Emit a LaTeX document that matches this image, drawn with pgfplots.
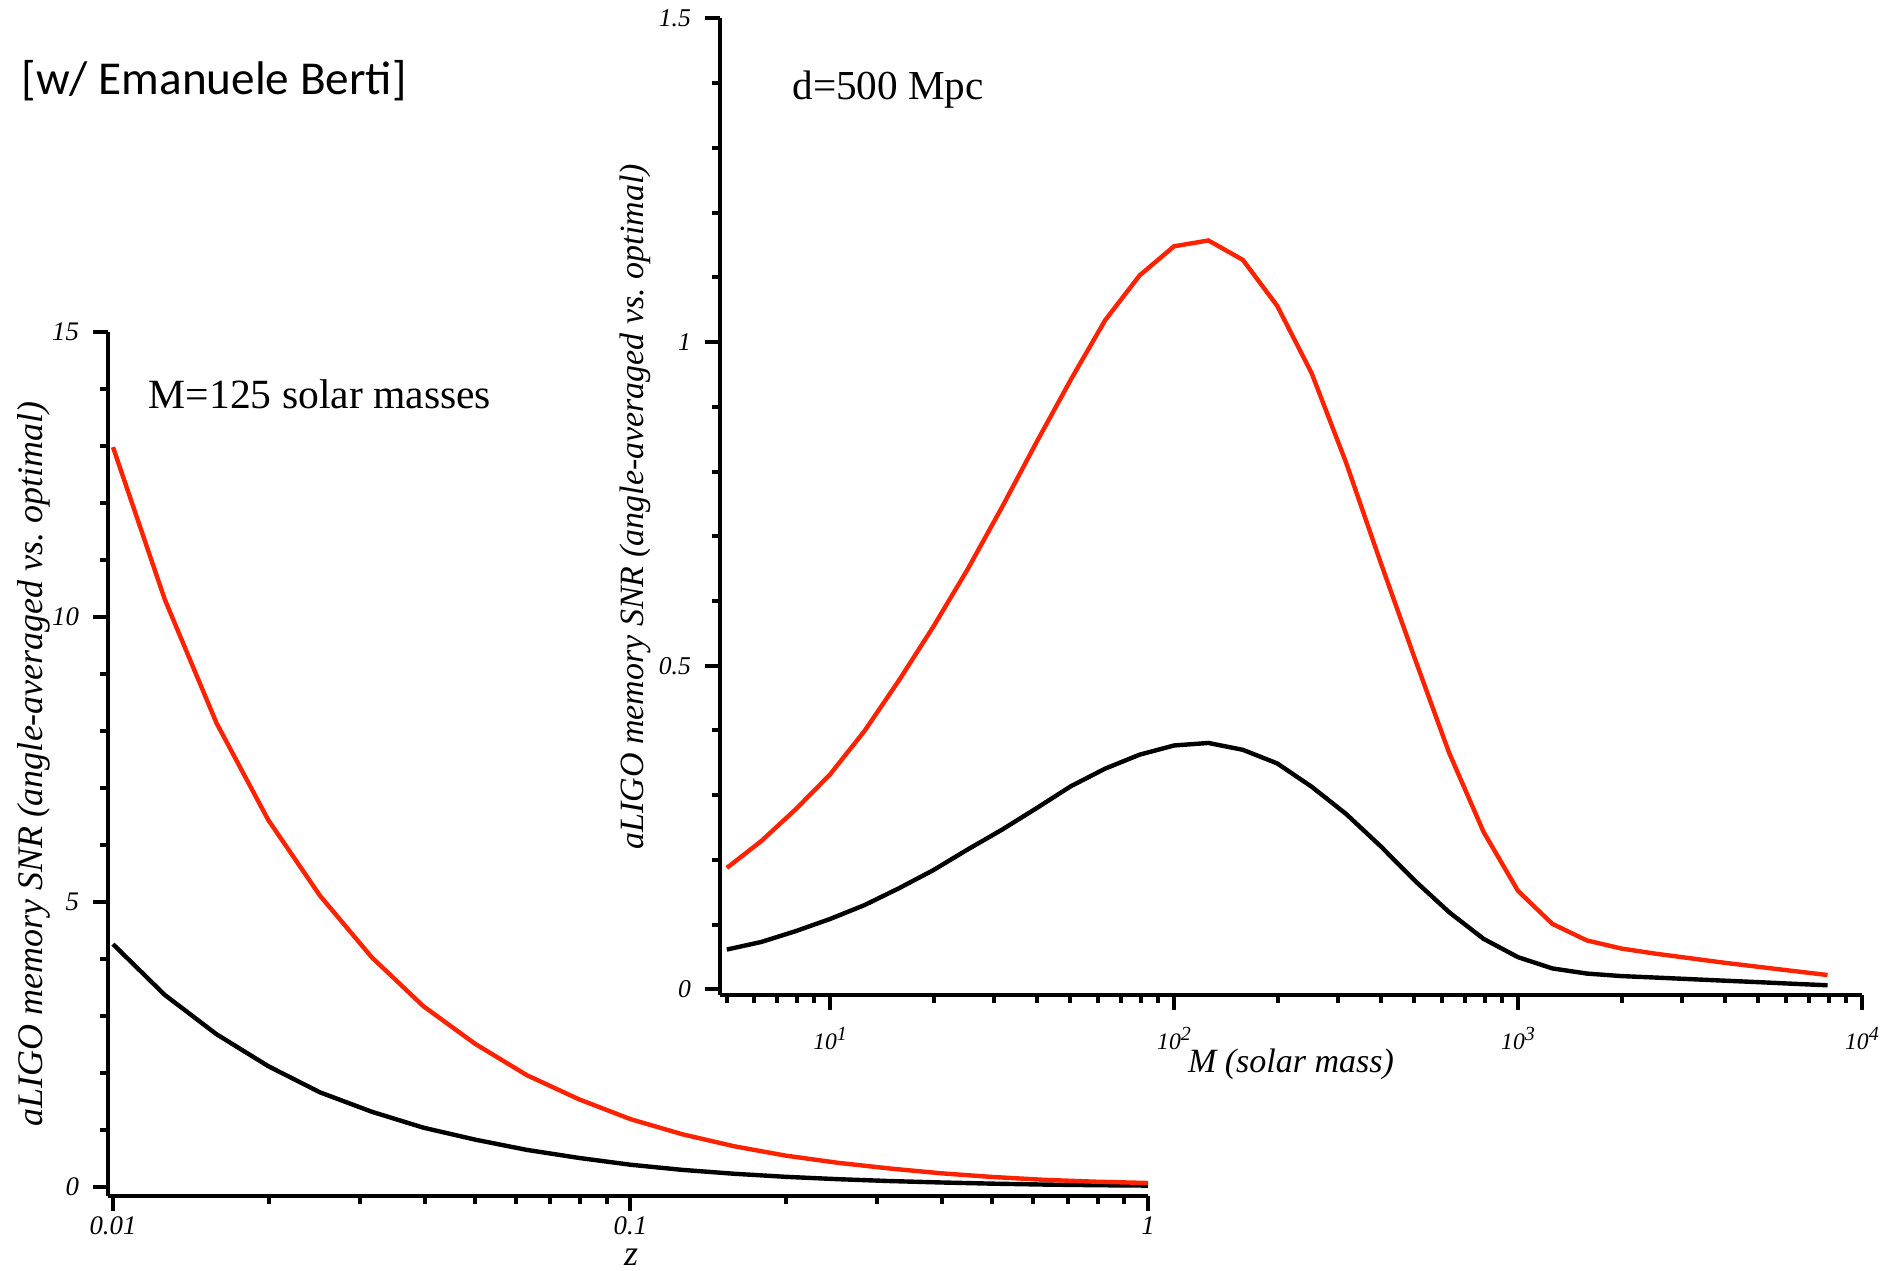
\documentclass[border=0pt]{standalone}
\usepackage{fontspec}
\setmainfont{Liberation Serif}
\newfontfamily\calibri{Carlito}
\usepackage{pgfplots}
\pgfplotsset{compat=1.18}
\definecolor{myred}{RGB}{255,34,0}
\newcommand\myexp[1]{\raisebox{0.8ex}{\fontsize{5}{5}\selectfont\itshape #1}}
\pgfplotsset{
  mystyle/.style={
    scale only axis, axis x line*=bottom, axis y line*=left,
    tick align=outside, major tick length=3.75pt, minor tick length=1.9pt,
    axis line style={line width=1.1pt},
    tick style={black, line width=1pt},
    clip=false,
  }
}
\begin{document}
\begin{tikzpicture}
\useasboundingbox (0,0) rectangle (472.25pt,317.75pt);
% left axis
\begin{semilogxaxis}[mystyle, at={(27pt,18.75pt)}, anchor=south west,
  width=260pt, height=216pt,
  xmin=0.00978, xmax=1, ymin=-0.158, ymax=15,
  xtick={0.01,0.1,1}, xticklabels={0.01,0.1,1},
  xticklabel style={font=\fontsize{6.7}{8}\selectfont\itshape, inner sep=0pt, yshift=-1.2pt},
  yticklabel style={font=\fontsize{6.7}{8}\selectfont\itshape},
  minor xtick={0.02,0.03,0.04,0.05,0.06,0.07,0.08,0.09,0.2,0.3,0.4,0.5,0.6,0.7,0.8,0.9},
  ytick={0,5,10,15}, yticklabels={0,5,10,15},
  minor ytick={1,2,3,4,6,7,8,9,11,12,13,14},
  xlabel={z}, ylabel={aLIGO memory SNR (angle-averaged vs.\ optimal)},
  label style={font=\fontsize{9}{10}\selectfont\itshape},
  xlabel style={at={(axis description cs:0.503,-0.081)}, anchor=base, inner sep=0pt},
  ylabel style={at={(axis description cs:-0.0712,0.5)}, anchor=center},
]
\addplot[black, line width=1.1pt] table {
0.01 4.26
0.012589 3.37
0.015849 2.68
0.019953 2.12
0.025119 1.66
0.031623 1.32
0.039811 1.04
0.050119 0.83
0.063096 0.65
0.079433 0.51
0.1 0.39
0.12589 0.30
0.15849 0.232
0.19953 0.178
0.25119 0.137
0.31623 0.104
0.39811 0.079
0.50119 0.058
0.63096 0.042
0.79433 0.031
1.0 0.024
};
\addplot[myred, line width=1.1pt] table {
0.01 12.98
0.012589 10.31
0.015849 8.14
0.019953 6.44
0.025119 5.11
0.031623 4.03
0.039811 3.17
0.050119 2.51
0.063096 1.96
0.079433 1.54
0.1 1.19
0.12589 0.925
0.15849 0.715
0.19953 0.55
0.25119 0.425
0.31623 0.325
0.39811 0.24
0.50119 0.175
0.63096 0.125
0.79433 0.092
1.0 0.07
};
\end{semilogxaxis}
% right axis
\begin{semilogxaxis}[mystyle, at={(180pt,69pt)}, anchor=south west,
  width=285.5pt, height=244.125pt,
  xmin=4.787, xmax=10000, ymin=-0.0088, ymax=1.5,
  xtick={10,100,1000,10000},
  xticklabels={10\myexp{1},10\myexp{2},10\myexp{3},10\myexp{4}},
  xticklabel style={font=\fontsize{5.9}{6}\selectfont\itshape, inner sep=0pt, yshift=-4.1pt},
  yticklabel style={font=\fontsize{6.4}{8}\selectfont\itshape},
  minor xtick={5,6,7,8,9,20,30,40,50,60,70,80,90,200,300,400,500,600,700,800,900,2000,3000,4000,5000,6000,7000,8000,9000},
  ytick={0,0.5,1,1.5}, yticklabels={0,0.5,1,1.5},
  minor ytick={0.1,0.2,0.3,0.4,0.6,0.7,0.8,0.9,1.1,1.2,1.3,1.4},
  xlabel={M (solar mass)}, ylabel={aLIGO memory SNR (angle-averaged vs.\ optimal)},
  label style={font=\fontsize{8.5}{10}\selectfont\itshape},
  xlabel style={at={(axis description cs:0.5,-0.0798)}, anchor=base, inner sep=0pt},
  ylabel style={at={(axis description cs:-0.0744,0.5)}, anchor=center},
]
\addplot[black, line width=1.1pt] table {
5.0119 0.0614
6.3096 0.0731
7.9433 0.0898
10 0.1086
12.589 0.130
15.849 0.156
19.953 0.184
25.119 0.216
31.623 0.2466
39.811 0.2797
50.119 0.3137
63.096 0.341
79.433 0.3625
100 0.3767
125.89 0.3806
158.49 0.370
199.53 0.349
251.19 0.313
316.23 0.271
398.11 0.2214
501.19 0.1678
630.96 0.119
794.33 0.0779
1000 0.0496
1258.9 0.0322
1584.9 0.0243
1995.3 0.0204
2511.9 0.0181
3162.3 0.0157
3981.1 0.0133
5011.9 0.011
6309.6 0.0085
7943.3 0.0062
};
\addplot[myred, line width=1.1pt] table {
5.0119 0.1875
6.3096 0.229
7.9433 0.278
10 0.332
12.589 0.399
15.849 0.477
19.953 0.560
25.119 0.649
31.623 0.745
39.811 0.845
50.119 0.942
63.096 1.034
79.433 1.103
100 1.148
125.89 1.157
158.49 1.127
199.53 1.056
251.19 0.952
316.23 0.814
398.11 0.6605
501.19 0.511
630.96 0.365
794.33 0.243
1000 0.152
1258.9 0.101
1584.9 0.0755
1995.3 0.063
2511.9 0.055
3162.3 0.048
3981.1 0.041
5011.9 0.0346
6309.6 0.0283
7943.3 0.022
};
\end{semilogxaxis}
\node[anchor=base west, inner sep=0pt, font=\calibri\fontsize{11.8}{14}\selectfont] at (5.2pt,294pt) {[w/ Emanuele Berti]};
\node[anchor=base west, inner sep=0pt, font=\fontsize{10.4}{12}\selectfont] at (37pt,215.7pt) {M=125 solar masses};
\node[anchor=base west, inner sep=0pt, font=\fontsize{10.3}{12}\selectfont] at (197.9pt,292.75pt) {d=500 Mpc};
\end{tikzpicture}
\end{document}
